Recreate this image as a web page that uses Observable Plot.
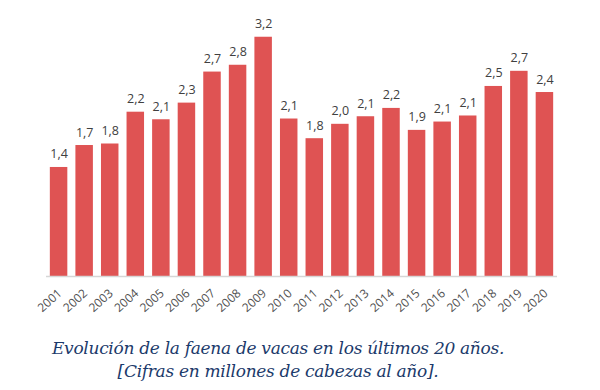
<!DOCTYPE html>
<html>
<head>
<meta charset="utf-8">
<script src="https://cdn.jsdelivr.net/npm/d3@7"></script>
<script src="https://cdn.jsdelivr.net/npm/@observablehq/plot@0.6"></script>
<style>
  html, body { margin: 0; padding: 0; background: #fff; }
  #chart svg { display: block; }
  #caption {
    width: 556px;
    margin-top: 17px;
    text-align: center;
    font-family: "DejaVu Serif", serif;
    font-style: italic;
    font-size: 17px;
    letter-spacing: -0.3px;
    line-height: 23px;
    color: #1b3a6b;
  }
</style>
</head>
<body>
<div id="chart"></div>
<div id="caption">Evolución de la faena de vacas en los últimos 20 años.<br>[Cifras en millones de cabezas al año].</div>
<script>
const years = ["2001","2002","2003","2004","2005","2006","2007","2008","2009","2010",
               "2011","2012","2013","2014","2015","2016","2017","2018","2019","2020"];
const values = [1.44, 1.73, 1.75, 2.17, 2.07, 2.29, 2.70, 2.79, 3.16, 2.08,
                1.82, 2.01, 2.11, 2.22, 1.93, 2.04, 2.12, 2.51, 2.71, 2.43];
const labels = ["1,4","1,7","1,8","2,2","2,1","2,3","2,7","2,8","3,2","2,1",
                "1,8","2,0","2,1","2,2","1,9","2,1","2,1","2,5","2,7","2,4"];

const data = years.map((y, i) => ({year: y, value: values[i], label: labels[i]}));

const chart = Plot.plot({
  width: 600,
  height: 320,
  marginLeft: 46,
  marginRight: 43,
  marginTop: 11,
  marginBottom: 44,
  style: {background: "#fff"},
  x: {domain: years, paddingInner: 0.316, paddingOuter: 0.15, round: false, label: null},
  y: {domain: [0, 3.5], axis: null},
  marks: [
    Plot.barY(data, {x: "year", y: "value", fill: "#df5353"}),
    Plot.ruleY([0], {stroke: "#d6d6d6", strokeWidth: 1.5}),
    Plot.text(data, {x: "year", y: "value", text: "label", dy: -13,
      fill: "#404040", fontSize: 12.5, fontFamily: "Open Sans"}),
    Plot.axisX({tickRotate: -42, tickSize: 0, tickPadding: 15, dx: 1,
      fontSize: 12, fontFamily: "Open Sans", color: "#505050", label: null})
  ]
});
document.getElementById("chart").appendChild(chart);
</script>
</body>
</html>
